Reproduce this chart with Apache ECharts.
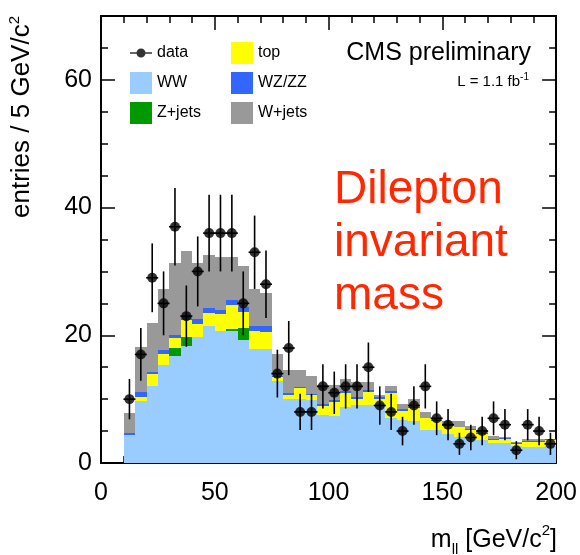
<!DOCTYPE html>
<html>
<head>
<meta charset="utf-8">
<script src="https://cdn.jsdelivr.net/npm/echarts@6/dist/echarts.min.js"></script>
<style>
  html, body { margin: 0; padding: 0; background: #ffffff; }
  #chart { width: 580px; height: 555px; }
</style>
</head>
<body>
<div id="chart"></div>
<script>
// Dilepton invariant mass: 5 GeV/c^2 bins from 10 to 200 GeV/c^2
const binLow = [10, 15, 20, 25, 30, 35, 40, 45, 50, 55, 60, 65, 70, 75, 80, 85, 90, 95, 100,
  105, 110, 115, 120, 125, 130, 135, 140, 145, 150, 155, 160, 165, 170, 175, 180, 185, 190, 195];
const binWidth = 5;

// observed events per bin
const dataCounts = [10, 17, 29, 25, 37, 23, 30, 36, 36, 36, 25, 33, 28, 14, 18, 8, 8, 12, 11,
  12, 12, 15, 9, 8, 5, 9, 12, 7, 6, 3, 4, 5, 7, 6, 2, 6, 5, 3];

// expected contributions per bin, stacked in this order
const wwYield = [4.4, 9.7, 12.1, 15.3, 16.7, 18.4, 19.7, 21.4, 20.6, 20.6, 19.2, 17.9, 17.9,
  12.9, 10.0, 10.0, 9.9, 7.5, 7.3, 8.8, 9.1, 9.1, 9.3, 7.0, 6.7, 6.6, 5.2, 5.1, 4.6, 4.1, 4.1,
  3.6, 3.1, 3.1, 2.6, 2.5, 2.5, 2.6];
const zjetsYield = [0, 0, 0, 0, 1.3, 1.4, 0, 0, 0, 0.4, 2.0, 0, 0,
  0, 0, 0, 0, 0, 0, 0, 0, 0, 0, 0, 0, 0, 0, 0, 0, 0, 0, 0, 0, 0, 0, 0, 0, 0];
const topYield = [0, 0.7, 1.8, 1.7, 1.5, 2.6, 2.0, 2.1, 2.8, 3.7, 2.4, 2.7, 2.6,
  0.5, 0.6, 1.7, 0.7, 1.5, 2.3, 2.1, 0.9, 2.0, 0.8, 4.0, 1.5, 2.0, 1.8, 1.5, 1.2, 1.5, 1.1,
  1.0, 0.5, 0.7, 0.4, 0.8, 0.8, 1.0];
const wzzzYield = [0.3, 0.7, 0.4, 0.7, 0.6, 0.5, 0.8, 0.7, 0.6, 0.9, 0.9, 0.8, 1.0,
  0.3, 0.3, 0.2, 0.2, 0.2, 0.2, 0.4, 0.3, 0.3, 0.2, 0.2, 0.2, 0.2, 0.1, 0.2, 0.1, 0.1, 0.1,
  0.1, 0.2, 0.1, 0.2, 0.1, 0.1, 0.1];
const wjetsYield = [3.1, 7.0, 7.6, 9.5, 11.2, 10.3, 8.8, 8.3, 8.2, 6.7, 6.4, 5.8, 5.1,
  3.4, 3.7, 2.7, 2.8, 3.0, 2.4, 1.9, 2.4, 1.3, 0.3, 0.9, 0.8, 1.2, 0.9, 0.3, 0.6, 0.8, 0.5,
  0.5, 0.5, 0.2, 0.1, 0.4, 0.4, 0.1];

const xTicks = { min: 0, max: 200, step: 50 };
const yTicks = { min: 0, max: 70, step: 20, minorStep: 5 };

const components = [
  { name: 'WW', values: wwYield, color: '#99ccff' },
  { name: 'Z+jets', values: zjetsYield, color: '#009900' },
  { name: 'top', values: topYield, color: '#ffff00' },
  { name: 'WZ/ZZ', values: wzzzYield, color: '#3366ff' },
  { name: 'W+jets', values: wjetsYield, color: '#999999' }
];

const FONT = "'Liberation Sans', Arial, Helvetica, sans-serif";

// running sums: each layer is painted from zero up to its cumulative top,
// outermost first, so the inner layers cover the lower part
const running = binLow.map(() => 0);
const layers = components.map(c => {
  const tops = c.values.map((v, i) => (running[i] += v));
  return { name: c.name, color: c.color, data: binLow.map((lo, i) => [lo, lo + binWidth, tops[i]]) };
});

function renderBin(params, api) {
  const a = api.coord([api.value(0), api.value(2)]);
  const b = api.coord([api.value(1), 0]);
  const x0 = Math.round(a[0]), x1 = Math.round(b[0]);
  const y0 = Math.round(a[1]), y1 = Math.round(b[1]);
  return {
    type: 'rect',
    shape: { x: x0, y: y0, width: x1 - x0, height: y1 - y0 },
    style: { fill: api.visual('color') }
  };
}

const histSeries = layers.slice().reverse().map(l => ({
  name: l.name,
  type: 'custom',
  xAxisIndex: 0,
  yAxisIndex: 0,
  itemStyle: { color: l.color },
  renderItem: renderBin,
  data: l.data,
  silent: true,
  z: 2
}));

const points = binLow.map((lo, i) => [lo + binWidth / 2, dataCounts[i]]);

// Poisson uncertainty on each observed count
function renderErr(params, api) {
  const x = api.value(0), n = api.value(1), e = Math.sqrt(n);
  const hi = api.coord([x, n + e]);
  const lo = api.coord([x, Math.max(n - e, 0)]);
  const c = api.coord([x, n]);
  const st = { stroke: '#000', lineWidth: 1.6 };
  return {
    type: 'group',
    children: [
      { type: 'line', shape: { x1: hi[0], y1: hi[1], x2: lo[0], y2: lo[1] }, style: st },
      { type: 'line', shape: { x1: c[0] - 6, y1: c[1], x2: c[0] + 6, y2: c[1] }, style: st }
    ]
  };
}

function xAxis(position, withLabels) {
  return {
    type: 'value', position: position,
    min: xTicks.min, max: xTicks.max, interval: xTicks.step,
    axisLine: { show: true, onZero: false, lineStyle: { color: '#000', width: 2 } },
    axisTick: { show: true, inside: true, length: 14, lineStyle: { color: '#000', width: 1.5 } },
    minorTick: { show: true, splitNumber: 5, length: 7, lineStyle: { color: '#000', width: 1.5 } },
    axisLabel: { show: withLabels, fontSize: 25, fontFamily: FONT, color: '#000', margin: 18 },
    splitLine: { show: false },
    minorSplitLine: { show: false }
  };
}

function yAxis(position, step, tickLen, withLine, withLabels) {
  return {
    type: 'value', position: position,
    min: yTicks.min, max: yTicks.max, interval: step,
    axisLine: { show: withLine, onZero: false, lineStyle: { color: '#000', width: 2 } },
    axisTick: { show: true, inside: true, length: tickLen, lineStyle: { color: '#000', width: 1.5 } },
    axisLabel: { show: withLabels, showMaxLabel: false, fontSize: 25, fontFamily: FONT, color: '#000', margin: 9 },
    splitLine: { show: false }
  };
}

// marker-with-bar key; the two empty moves pin the icon box to 22x22
const dataIcon = 'path://M0,0 L0,0 M22,22 L22,22 M0,10.2 L22,10.2 L22,11.8 L0,11.8 Z ' +
  'M6.5,11 A4.5,4.5 0 1 1 15.5,11 A4.5,4.5 0 1 1 6.5,11 Z';

const legendBase = {
  orient: 'vertical', top: 42, itemWidth: 22, itemHeight: 22, itemGap: 8,
  padding: 0, selectedMode: false,
  textStyle: { fontSize: 16, fontFamily: FONT, color: '#000' }
};

const chart = echarts.init(document.getElementById('chart'), null, { renderer: 'canvas' });
chart.setOption({
  animation: false,
  backgroundColor: '#ffffff',
  grid: { left: 101, right: 21, top: 16, bottom: 92 },
  xAxis: [xAxis('bottom', true), xAxis('top', false)],
  yAxis: [
    yAxis('left', yTicks.step, 14, true, true),
    yAxis('left', yTicks.minorStep, 7, false, false),
    yAxis('right', yTicks.step, 14, true, false),
    yAxis('right', yTicks.minorStep, 7, false, false)
  ],
  legend: [
    Object.assign({}, legendBase, {
      left: 130,
      data: [{ name: 'data', icon: dataIcon }, { name: 'WW', icon: 'rect' }, { name: 'Z+jets', icon: 'rect' }]
    }),
    Object.assign({}, legendBase, {
      left: 231,
      data: [{ name: 'top', icon: 'rect' }, { name: 'WZ/ZZ', icon: 'rect' }, { name: 'W+jets', icon: 'rect' }]
    })
  ],
  series: histSeries.concat([
    {
      type: 'custom', xAxisIndex: 0, yAxisIndex: 0,
      renderItem: renderErr, data: points, silent: true, z: 5
    },
    {
      name: 'data', type: 'scatter', xAxisIndex: 0, yAxisIndex: 0,
      symbol: 'circle', symbolSize: 10,
      itemStyle: { color: '#000' },
      data: points, silent: true, z: 6
    }
  ]),
  graphic: [
    {
      type: 'text', x: 531, y: 53, z: 10,
      style: { text: 'CMS preliminary', fontSize: 25, fontFamily: FONT, fill: '#000', align: 'right', verticalAlign: 'middle' }
    },
    {
      type: 'text', x: 529, y: 82, z: 10,
      style: {
        text: '{t|L = 1.1 fb}{s|-1}', align: 'right', verticalAlign: 'middle',
        rich: {
          t: { fontSize: 15, fontFamily: FONT, fill: '#000', lineHeight: 20 },
          s: { fontSize: 10, fontFamily: FONT, fill: '#000', verticalAlign: 'top', lineHeight: 12 }
        }
      }
    },
    {
      type: 'text', x: 334, y: 164, z: 10,
      style: {
        text: 'Dilepton\ninvariant\nmass', fontSize: 46, lineHeight: 53,
        fontFamily: FONT, fill: '#ff2800', align: 'left', verticalAlign: 'top'
      }
    },
    {
      type: 'text', x: 22, y: 16, rotation: Math.PI / 2, z: 10,
      style: {
        text: '{t|entries / 5 GeV/c}{s|2}', align: 'right', verticalAlign: 'middle',
        rich: {
          t: { fontSize: 26, fontFamily: FONT, fill: '#000', lineHeight: 30 },
          s: { fontSize: 15, fontFamily: FONT, fill: '#000', verticalAlign: 'top', lineHeight: 16 }
        }
      }
    },
    {
      type: 'text', x: 557, y: 540, z: 10,
      style: {
        text: '{t|m}{b|ll}{t| [GeV/c}{s|2}{t|]}', align: 'right', verticalAlign: 'middle',
        rich: {
          t: { fontSize: 25, fontFamily: FONT, fill: '#000', lineHeight: 34 },
          b: { fontSize: 15, fontFamily: FONT, fill: '#000', verticalAlign: 'bottom', lineHeight: 16 },
          s: { fontSize: 15, fontFamily: FONT, fill: '#000', verticalAlign: 'top', lineHeight: 16 }
        }
      }
    }
  ]
});
</script>
</body>
</html>
